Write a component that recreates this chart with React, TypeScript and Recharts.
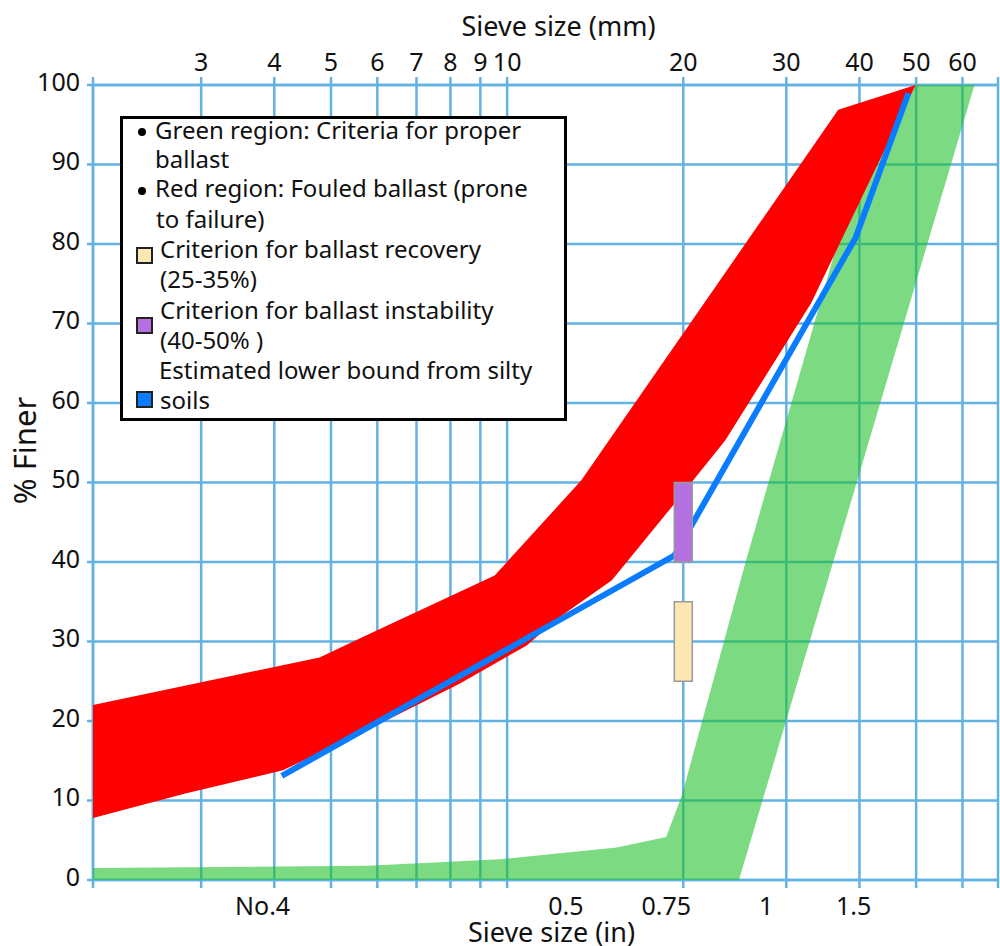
import React from 'react';
import {
  ComposedChart,
  XAxis,
  YAxis,
  CartesianGrid,
  Scatter,
  ReferenceArea,
  Label,
} from 'recharts';

// ---------- data ----------
const sieveDomain = [1.96, 69];
const mmGridTicks = [1.96, 3, 4, 5, 6, 7, 8, 9, 10, 20, 30, 40, 50, 60, 69];
const mmTickLabels = ['', '3', '4', '5', '6', '7', '8', '9', '10', '20', '30', '40', '50', '60', ''];
const inchTickValues = [3.82, 12.6, 18.7, 27.7, 39.1];
const inchTickLabels = ['No.4', '0.5', '0.75', '1', '1.5'];
const finerTicks = [0, 10, 20, 30, 40, 50, 60, 70, 80, 90, 100];

// Green region: criteria for proper ballast (polygon, sieve mm / % finer)
const greenSieve = [1.96, 5.78, 9.7, 15.4, 18.7, 19.9, 25.6, 36.8, 49.9, 62.9, 24.9, 1.96];
const greenFiner = [1.5, 1.8, 2.6, 4.1, 5.4, 10.7, 40.2, 80.5, 100, 100, 0, 0];

// Red region: fouled ballast (polygon)
const redSieve = [1.96, 4.78, 5.75, 9.52, 13.4, 36.8, 49.9, 33.1, 23.6, 19.1, 15.1, 12.25, 10.8, 8.29, 5.89, 4.14, 2.83, 1.96];
const redFiner = [22.0, 28.0, 30.8, 38.3, 50.3, 96.9, 100, 72.6, 55.3, 46.9, 37.7, 33.0, 29.5, 24.7, 19.2, 13.8, 10.9, 7.8];

// Estimated lower bound from silty soils
const blueSieve = [4.12, 19.3, 39.4, 48.5];
const blueFiner = [13.1, 40.8, 80.8, 99.0];

// Criteria bars at 20 mm sieve
const criterionSieve = 20;
const recoveryRange = [25, 35];
const instabilityRange = [40, 50];

// ---------- styles ----------
const FONT = "'Noto Sans', sans-serif";
const GRID = '#62b2e3';
const BAR_HALF = 1.036;

const toPts = (xs: number[], ys: number[]) => xs.map((x, i) => ({ x, y: ys[i] }));
const greenPts = toPts(greenSieve, greenFiner);
const redPts = toPts(redSieve, redFiner);
const bluePts = toPts(blueSieve, blueFiner);

const NoShape = () => <g />;

const BottomTick = (props: any) => {
  const { x, y, payload } = props;
  const idx = inchTickValues.indexOf(payload.value);
  if (idx >= 0) {
    return (
      <text x={x} y={y + 35} textAnchor="middle" fill="#111" fontSize={25} fontFamily={FONT}>
        {inchTickLabels[idx]}
      </text>
    );
  }
  return <line x1={x} x2={x} y1={y} y2={y + 8} stroke={GRID} strokeWidth={2.5} />;
};

const TopTitle = (props: any) => {
  const vb = props.viewBox || { x: 93, y: 0, width: 905, height: 85 };
  return (
    <text x={vb.x + vb.width / 2 + 13} y={vb.y + 36} textAnchor="middle" fill="#111" fontSize={27} fontFamily={FONT}>
      Sieve size (mm)
    </text>
  );
};

const BottomTitle = (props: any) => {
  const vb = props.viewBox || { x: 93, y: 880, width: 905, height: 66 };
  return (
    <text x={vb.x + vb.width / 2 + 6} y={vb.y + 62} textAnchor="middle" fill="#111" fontSize={27} fontFamily={FONT}>
      Sieve size (in)
    </text>
  );
};

const LeftTitle = (props: any) => {
  const vb = props.viewBox || { x: 0, y: 85, width: 93, height: 795 };
  const cx = vb.x + 24;
  const cy = vb.y + vb.height / 2 - 32;
  return (
    <text
      x={cx}
      y={cy}
      textAnchor="middle"
      dominantBaseline="central"
      transform={`rotate(-90, ${cx}, ${cy})`}
      fill="#111"
      fontSize={31}
      fontFamily={FONT}
    >
      % Finer
    </text>
  );
};

const legendText: React.CSSProperties = {
  position: 'absolute',
  whiteSpace: 'nowrap',
  fontFamily: FONT,
  fontSize: 24,
  lineHeight: '26px',
  color: '#111',
};

const LegendBox = () => {
  const ox = 123;
  const oy = 119;
  const line = (text: string, left: number, center: number) => (
    <div key={text} style={{ ...legendText, left: left - ox, top: center - 14.8 - oy }}>
      {text}
    </div>
  );
  const bullet = (cx: number, cy: number) => (
    <div
      key={`b${cy}`}
      style={{
        position: 'absolute',
        left: cx - 4 - ox,
        top: cy - 4 - oy,
        width: 8,
        height: 8,
        borderRadius: 4,
        background: '#000',
      }}
    />
  );
  const square = (color: string, left: number, top: number) => (
    <div
      key={`s${top}`}
      style={{
        position: 'absolute',
        left: left - ox,
        top: top - oy,
        width: 17,
        height: 17,
        boxSizing: 'border-box',
        border: '2px solid #222',
        background: color,
      }}
    />
  );
  return (
    <div
      style={{
        position: 'absolute',
        left: 120,
        top: 116,
        width: 447,
        height: 305,
        boxSizing: 'border-box',
        border: '3px solid #000',
        background: '#fff',
      }}
    >
      {bullet(142, 132)}
      {line('Green region: Criteria for proper', 155, 132)}
      {line('ballast', 155, 160.5)}
      {bullet(142, 191)}
      {line('Red region: Fouled ballast (prone', 155, 190)}
      {line('to failure)', 156, 221)}
      {square('#fde8b4', 136, 247)}
      {line('Criterion for ballast recovery', 160, 251)}
      {line('(25-35%)', 160, 281)}
      {square('#b46fe0', 136, 317)}
      {line('Criterion for ballast instability', 160, 311.5)}
      {line('(40-50% )', 160, 342)}
      {line('Estimated lower bound from silty', 159, 372)}
      {square('#0a7cff', 136, 391)}
      {line('soils', 160, 402)}
    </div>
  );
};

export default function App() {
  return (
    <div style={{ position: 'absolute', left: 0, top: 0, width: 1000, height: 946, background: '#fff' }}>
      <ComposedChart width={1000} height={946} margin={{ top: 0, right: 2, bottom: 0, left: 0 }}>
        <CartesianGrid xAxisId="mm" stroke={GRID} strokeWidth={2.5} />
        <XAxis
          xAxisId="mm"
          orientation="top"
          type="number"
          scale="log"
          dataKey="x"
          domain={sieveDomain}
          allowDataOverflow
          ticks={mmGridTicks}
          interval={0}
          height={85}
          tickSize={8}
          tickMargin={6}
          axisLine={{ stroke: GRID, strokeWidth: 2.5 }}
          tickLine={{ stroke: GRID, strokeWidth: 2.5 }}
          tick={{ fill: '#111', fontSize: 25, fontFamily: FONT }}
          tickFormatter={(v: number) => mmTickLabels[mmGridTicks.indexOf(v)] ?? ''}
        >
          <Label content={<TopTitle />} />
        </XAxis>
        <XAxis
          xAxisId="in"
          orientation="bottom"
          type="number"
          scale="log"
          dataKey="x"
          domain={sieveDomain}
          allowDataOverflow
          ticks={[...mmGridTicks, ...inchTickValues].sort((a, b) => a - b)}
          interval={0}
          height={66}
          tickSize={0}
          tickMargin={0}
          axisLine={{ stroke: GRID, strokeWidth: 2.5 }}
          tickLine={false}
          tick={<BottomTick />}
        >
          <Label content={<BottomTitle />} />
        </XAxis>
        <YAxis
          type="number"
          dataKey="y"
          domain={[0, 100]}
          ticks={finerTicks}
          interval={0}
          width={93}
          tickSize={6}
          tickMargin={7}
          axisLine={{ stroke: GRID, strokeWidth: 2.5 }}
          tickLine={{ stroke: GRID, strokeWidth: 2.5 }}
          tick={{ fill: '#111', fontSize: 25, fontFamily: FONT, dy: -3 }}
        >
          <Label content={<LeftTitle />} />
        </YAxis>

        <Scatter
          xAxisId="mm"
          data={greenPts}
          fill="#21c02d"
          line={{ fill: '#21c02d', fillOpacity: 0.59, stroke: 'none' }}
          lineJointType="linear"
          shape={NoShape}
          isAnimationActive={false}
        />
        <Scatter
          xAxisId="mm"
          data={redPts}
          fill="#ff0000"
          line={{ fill: '#ff0000', stroke: 'none' }}
          lineJointType="linear"
          shape={NoShape}
          isAnimationActive={false}
        />
        <Scatter
          xAxisId="in"
          data={bluePts}
          fill="#0a7cff"
          line={{ fill: 'none', stroke: '#0a7cff', strokeWidth: 6 }}
          lineJointType="linear"
          shape={NoShape}
          isAnimationActive={false}
        />
        <ReferenceArea
          xAxisId="mm"
          x1={criterionSieve / BAR_HALF}
          x2={criterionSieve * BAR_HALF}
          y1={recoveryRange[0]}
          y2={recoveryRange[1]}
          fill="#fde8b4"
          fillOpacity={1}
          stroke="#9a9a9a"
          strokeWidth={1.5}
          ifOverflow="visible"
          zIndex={1000}
        />
        <ReferenceArea
          xAxisId="mm"
          x1={criterionSieve / BAR_HALF}
          x2={criterionSieve * BAR_HALF}
          y1={instabilityRange[0]}
          y2={instabilityRange[1]}
          fill="#b46fe0"
          fillOpacity={1}
          stroke="#9a9a9a"
          strokeWidth={1.5}
          ifOverflow="visible"
          zIndex={1000}
        />
      </ComposedChart>
      <LegendBox />
    </div>
  );
}
